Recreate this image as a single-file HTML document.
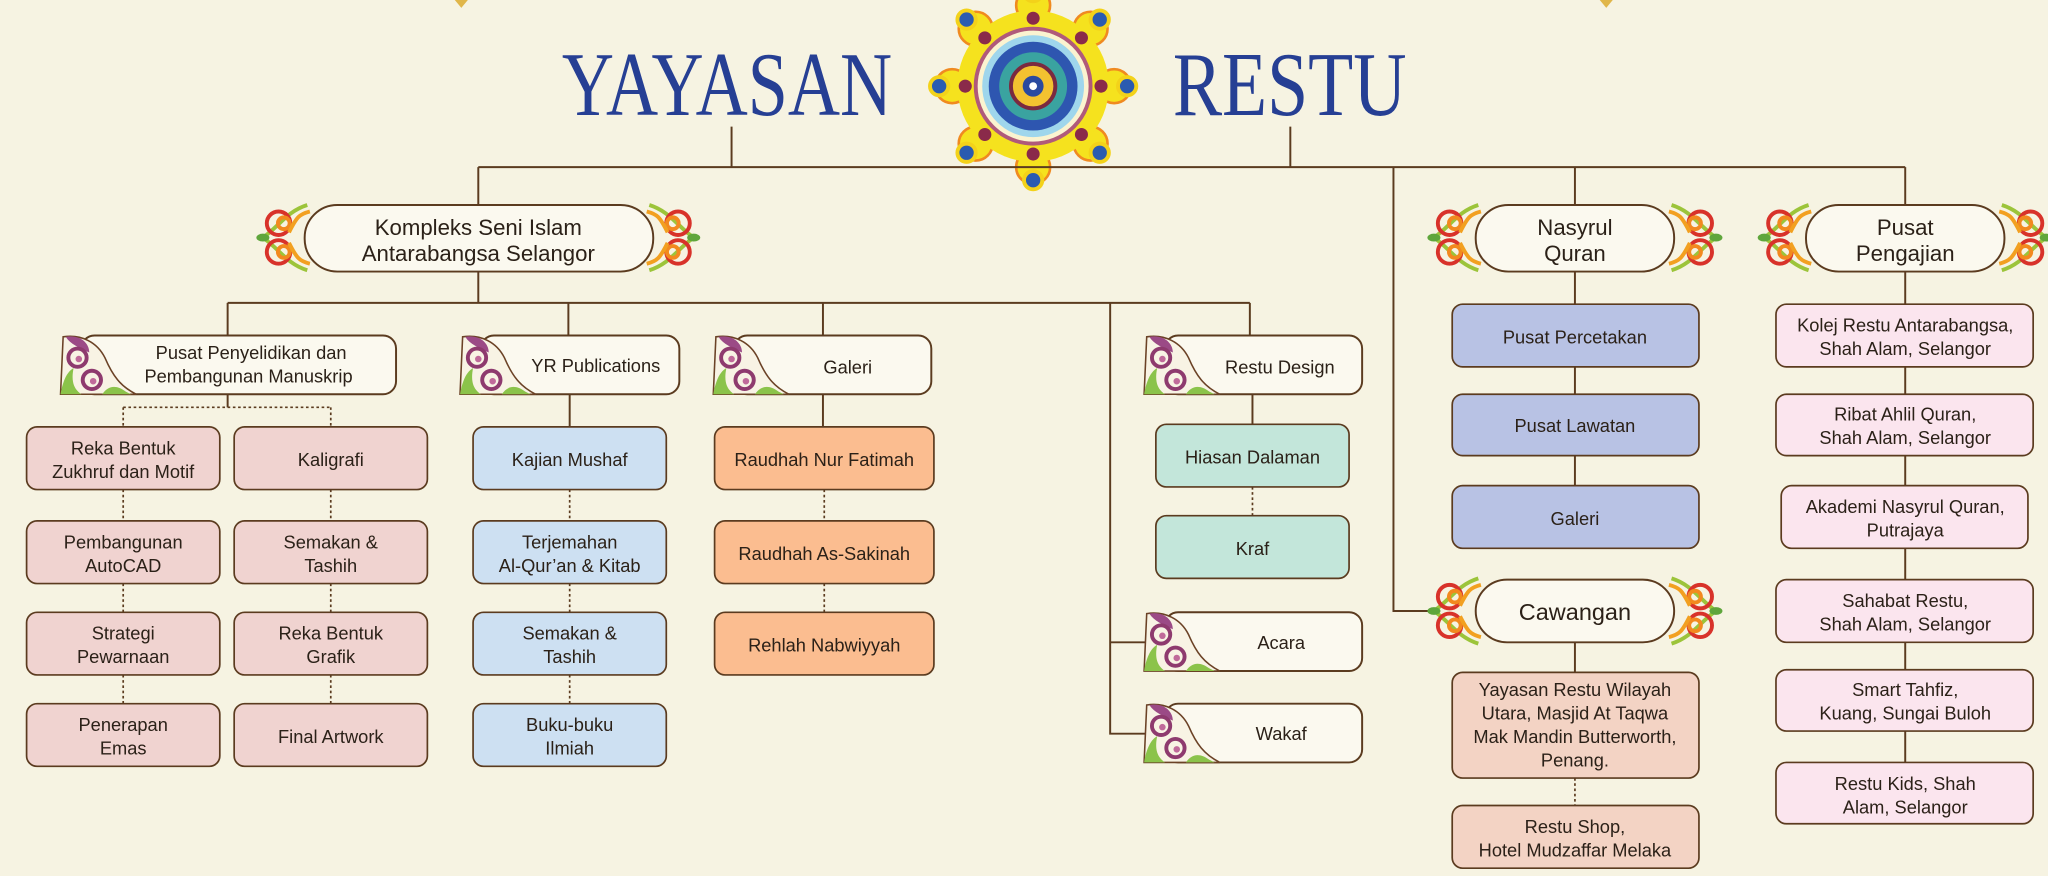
<!DOCTYPE html>
<html><head><meta charset="utf-8"><style>
html,body{margin:0;padding:0;background:#f6f3e2;}
svg{display:block}
text{font-family:"Liberation Sans",sans-serif;fill:#2b2118;text-anchor:middle}
text.title{font-family:"Liberation Serif",serif;fill:#263f94;text-anchor:start}
</style></head><body>
<svg width="2048" height="876" viewBox="0 0 1568 671" xmlns="http://www.w3.org/2000/svg">
<defs>
<g id="capL">
 <path d="M36,-25 C20,-20 14,-8 2,0 C14,8 20,20 36,25" fill="none" stroke="#9cc43a" stroke-width="3"/>
 <circle cx="14" cy="-11" r="9" fill="none" stroke="#d8322a" stroke-width="3"/>
 <circle cx="14" cy="11" r="9" fill="none" stroke="#d8322a" stroke-width="3"/>
 <circle cx="18" cy="-11" r="4.5" fill="none" stroke="#f2891f" stroke-width="3"/>
 <circle cx="18" cy="11" r="4.5" fill="none" stroke="#f2891f" stroke-width="3"/>
 <path d="M22,-4 C28,-16 30,-18 38,-20 M22,4 C28,16 30,18 38,20" stroke="#f2a020" stroke-width="3" fill="none"/>
 <ellipse cx="2" cy="0" rx="5" ry="3" fill="#5fa63c"/>
</g>
<g id="capR"><use href="#capL" transform="scale(-1,1)"/></g>
<g id="scr">
 <path d="M4,-22 C18,-24 30,-18 36,-6 C42,8 48,16 60,22 L2,22 Z" fill="#f8f3e4" stroke="#6b4226" stroke-width="1.2"/>
 <path d="M6,-22 C16,-24 24,-18 24,-10 C16,-14 10,-16 6,-22Z" fill="#9b4a86"/>
 <circle cx="15" cy="-6" r="7" fill="none" stroke="#8e3a6e" stroke-width="3"/>
 <circle cx="16" cy="-5" r="2.5" fill="#c06a9a"/>
 <circle cx="26" cy="11" r="7" fill="none" stroke="#8e3a6e" stroke-width="3"/>
 <circle cx="27" cy="12" r="2.5" fill="#c06a9a"/>
 <path d="M2,22 C4,10 8,4 12,2 C10,12 12,18 18,22Z" fill="#8bc34a"/>
 <path d="M34,22 C38,16 44,14 52,20 L56,22Z" fill="#8bc34a"/>
</g>
</defs>

<path d="M348,0 L353,6 L358,0Z" fill="#e0b64a"/>
<path d="M1225,0 L1230,6 L1235,0Z" fill="#e0b64a"/>

<text class="title" x="430" y="88" font-size="70" textLength="253" lengthAdjust="spacingAndGlyphs">YAYASAN</text>
<text class="title" x="898" y="88" font-size="70" textLength="179" lengthAdjust="spacingAndGlyphs">RESTU</text>

<g transform="translate(791,66)">
 <g fill="#f5e21e" stroke="#f08a20" stroke-width="2">
  <circle cx="0" cy="-62" r="13"/><circle cx="0" cy="62" r="13"/><circle cx="-62" cy="0" r="13"/><circle cx="62" cy="0" r="13"/>
  <circle cx="-44" cy="-44" r="13"/><circle cx="44" cy="-44" r="13"/><circle cx="-44" cy="44" r="13"/><circle cx="44" cy="44" r="13"/>
 </g>
 <g fill="#2a5bb0" stroke="#f3d21a" stroke-width="3">
  <circle cx="0" cy="-72" r="7"/><circle cx="0" cy="72" r="7"/><circle cx="-72" cy="0" r="7"/><circle cx="72" cy="0" r="7"/>
  <circle cx="-51" cy="-51" r="7"/><circle cx="51" cy="-51" r="7"/><circle cx="-51" cy="51" r="7"/><circle cx="51" cy="51" r="7"/>
 </g>
 <circle r="58" fill="#f5e21e"/>
 <g fill="#8a2a4a">
  <circle cx="0" cy="-52" r="5"/><circle cx="0" cy="52" r="5"/><circle cx="-52" cy="0" r="5"/><circle cx="52" cy="0" r="5"/>
  <circle cx="-37" cy="-37" r="5"/><circle cx="37" cy="-37" r="5"/><circle cx="-37" cy="37" r="5"/><circle cx="37" cy="37" r="5"/>
 </g>
 <circle r="44" fill="#fbf3d0" stroke="#b05a7a" stroke-width="3"/>
 <circle r="39" fill="#9fd6ec"/>
 <circle r="34" fill="#2e56b0"/>
 <circle r="26" fill="#3aa3a0"/>
 <circle r="17" fill="#f3c230" stroke="#7a2a40" stroke-width="3"/>
 <circle r="8" fill="#2a4aa0"/>
 <circle r="3" fill="#fff"/>
</g>

<g stroke="#5b3b1f" stroke-width="1.5" fill="none">
 <path d="M560 97V128M988 97V128M366 128H1459M366 128V157M1206 128V157M1459 128V157M1067 128V468H1100"/>
 <path d="M366 208V232M174 232H957M174 232V257M435 232V257M630 232V257M957 232V257M850 232V562H877M850 492H877"/>
 <path d="M174 302V312M436 302V327M630 302V327M959 302V325"/>
 <path d="M1206 208V233M1206 281V302M1206 349V372M1206 492V515"/>
 <path d="M1459 208V233M1459 281V302M1459 349V372M1459 420V444M1459 492V513M1459 560V584"/>
</g>
<g stroke="#5b3b1f" stroke-width="1.3" fill="none" stroke-dasharray="2,2">
 <path d="M94 312H253M94 312V327M253 312V327"/>
 <path d="M94 375V399M94 447V469M94 517V539M253 375V399M253 447V469M253 517V539"/>
 <path d="M436 375V399M436 447V469M436 517V539M631 375V399M631 447V469M959 373V395M1206 596V617"/>
</g>

<g fill="#fbf9ef" stroke="#5b3b1f" stroke-width="1.5">
 <rect x="233" y="157" width="267" height="51" rx="25"/>
 <rect x="1130" y="157" width="152" height="51" rx="25"/>
 <rect x="1383" y="157" width="152" height="51" rx="25"/>
 <rect x="1130" y="444" width="152" height="48" rx="24"/>
</g>
<use href="#capL" x="199" y="182"/><use href="#capR" x="533" y="182"/>
<use href="#capL" x="1096" y="182"/><use href="#capR" x="1316" y="182"/>
<use href="#capL" x="1349" y="182"/><use href="#capR" x="1569" y="182"/>
<use href="#capL" x="1096" y="468"/><use href="#capR" x="1316" y="468"/>
<text x="366" y="180" font-size="17">Kompleks Seni Islam</text>
<text x="366" y="200" font-size="17">Antarabangsa Selangor</text>
<text x="1206" y="180" font-size="17">Nasyrul</text>
<text x="1206" y="200" font-size="17">Quran</text>
<text x="1459" y="180" font-size="17">Pusat</text>
<text x="1459" y="200" font-size="17">Pengajian</text>
<text x="1206" y="475" font-size="18">Cawangan</text>

<g fill="#fbf9ef" stroke="#5b3b1f" stroke-width="1.5">
 <rect x="62" y="257" width="241" height="45" rx="10"/>
 <rect x="368" y="257" width="152" height="45" rx="10"/>
 <rect x="562" y="257" width="151" height="45" rx="10"/>
 <rect x="892" y="257" width="151" height="45" rx="10"/>
 <rect x="892" y="469" width="151" height="45" rx="10"/>
 <rect x="892" y="539" width="151" height="45" rx="10"/>
</g>
<use href="#scr" x="44" y="280"/><use href="#scr" x="350" y="280"/><use href="#scr" x="544" y="280"/>
<use href="#scr" x="874" y="280"/><use href="#scr" x="874" y="492"/><use href="#scr" x="874" y="562"/>
<g font-size="14">
<text x="192" y="275">Pusat Penyelidikan dan</text>
<text x="190" y="293">Pembangunan Manuskrip</text>
<text x="456" y="285">YR Publications</text>
<text x="649" y="286">Galeri</text>
<text x="980" y="286">Restu Design</text>
<text x="981" y="497">Acara</text>
<text x="981" y="567">Wakaf</text>
</g>

<g fill="#f0d3d0" stroke="#5b3b1f" stroke-width="1.3">
 <rect x="20" y="327" width="148" height="48" rx="8"/><rect x="179" y="327" width="148" height="48" rx="8"/>
 <rect x="20" y="399" width="148" height="48" rx="8"/><rect x="179" y="399" width="148" height="48" rx="8"/>
 <rect x="20" y="469" width="148" height="48" rx="8"/><rect x="179" y="469" width="148" height="48" rx="8"/>
 <rect x="20" y="539" width="148" height="48" rx="8"/><rect x="179" y="539" width="148" height="48" rx="8"/>
</g>
<g fill="#cde0f2" stroke="#5b3b1f" stroke-width="1.3">
 <rect x="362" y="327" width="148" height="48" rx="8"/><rect x="362" y="399" width="148" height="48" rx="8"/>
 <rect x="362" y="469" width="148" height="48" rx="8"/><rect x="362" y="539" width="148" height="48" rx="8"/>
</g>
<g fill="#fbbd90" stroke="#5b3b1f" stroke-width="1.3">
 <rect x="547" y="327" width="168" height="48" rx="8"/><rect x="547" y="399" width="168" height="48" rx="8"/>
 <rect x="547" y="469" width="168" height="48" rx="8"/>
</g>
<g fill="#c3e6da" stroke="#5b3b1f" stroke-width="1.3">
 <rect x="885" y="325" width="148" height="48" rx="8"/><rect x="885" y="395" width="148" height="48" rx="8"/>
</g>
<g fill="#b8c2e4" stroke="#5b3b1f" stroke-width="1.3">
 <rect x="1112" y="233" width="189" height="48" rx="8"/><rect x="1112" y="302" width="189" height="47" rx="8"/>
 <rect x="1112" y="372" width="189" height="48" rx="8"/>
</g>
<g fill="#f3d3c4" stroke="#5b3b1f" stroke-width="1.3">
 <rect x="1112" y="515" width="189" height="81" rx="8"/><rect x="1112" y="617" width="189" height="48" rx="8"/>
</g>
<g fill="#fbe5ee" stroke="#5b3b1f" stroke-width="1.3">
 <rect x="1360" y="233" width="197" height="48" rx="8"/><rect x="1360" y="302" width="197" height="47" rx="8"/>
 <rect x="1364" y="372" width="189" height="48" rx="8"/><rect x="1360" y="444" width="197" height="48" rx="8"/>
 <rect x="1360" y="513" width="197" height="47" rx="8"/><rect x="1360" y="584" width="197" height="47" rx="8"/>
</g>

<g font-size="14">
<text x="94" y="348">Reka Bentuk</text><text x="94" y="366">Zukhruf dan Motif</text>
<text x="253" y="357">Kaligrafi</text>
<text x="94" y="420">Pembangunan</text><text x="94" y="438">AutoCAD</text>
<text x="253" y="420">Semakan &amp;</text><text x="253" y="438">Tashih</text>
<text x="94" y="490">Strategi</text><text x="94" y="508">Pewarnaan</text>
<text x="253" y="490">Reka Bentuk</text><text x="253" y="508">Grafik</text>
<text x="94" y="560">Penerapan</text><text x="94" y="578">Emas</text>
<text x="253" y="569">Final Artwork</text>

<text x="436" y="357">Kajian Mushaf</text>
<text x="436" y="420">Terjemahan</text><text x="436" y="438">Al-Qur’an &amp; Kitab</text>
<text x="436" y="490">Semakan &amp;</text><text x="436" y="508">Tashih</text>
<text x="436" y="560">Buku-buku</text><text x="436" y="578">Ilmiah</text>

<text x="631" y="357">Raudhah Nur Fatimah</text>
<text x="631" y="429">Raudhah As-Sakinah</text>
<text x="631" y="499">Rehlah Nabwiyyah</text>

<text x="959" y="355">Hiasan Dalaman</text>
<text x="959" y="425">Kraf</text>

<text x="1206" y="263">Pusat Percetakan</text>
<text x="1206" y="331">Pusat Lawatan</text>
<text x="1206" y="402">Galeri</text>

<text x="1206" y="533">Yayasan Restu Wilayah</text>
<text x="1206" y="551">Utara, Masjid At Taqwa</text>
<text x="1206" y="569">Mak Mandin Butterworth,</text>
<text x="1206" y="587">Penang.</text>
<text x="1206" y="638">Restu Shop,</text><text x="1206" y="656">Hotel Mudzaffar Melaka</text>

<text x="1459" y="254">Kolej Restu Antarabangsa,</text><text x="1459" y="272">Shah Alam, Selangor</text>
<text x="1459" y="322">Ribat Ahlil Quran,</text><text x="1459" y="340">Shah Alam, Selangor</text>
<text x="1459" y="393">Akademi Nasyrul Quran,</text><text x="1459" y="411">Putrajaya</text>
<text x="1459" y="465">Sahabat Restu,</text><text x="1459" y="483">Shah Alam, Selangor</text>
<text x="1459" y="533">Smart Tahfiz,</text><text x="1459" y="551">Kuang, Sungai Buloh</text>
<text x="1459" y="605">Restu Kids, Shah</text><text x="1459" y="623">Alam, Selangor</text>
</g>
</svg>
</body></html>
